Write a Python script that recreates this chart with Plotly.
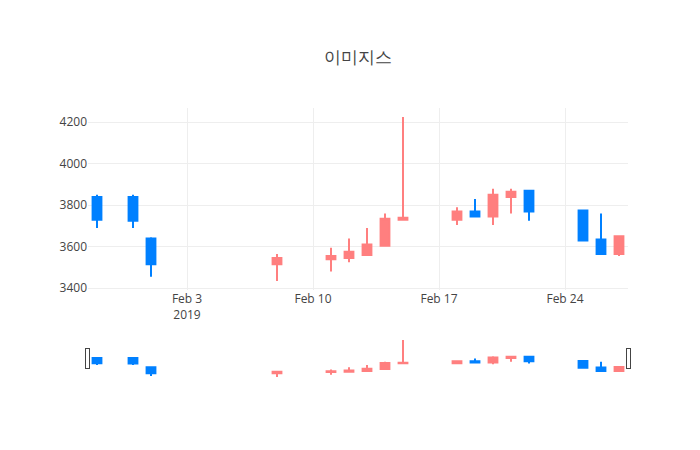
import plotly.graph_objects as go

dates = ["2019-01-29", "2019-01-31", "2019-02-01", "2019-02-08", "2019-02-11",
         "2019-02-12", "2019-02-13", "2019-02-14", "2019-02-15", "2019-02-18",
         "2019-02-19", "2019-02-20", "2019-02-21", "2019-02-22", "2019-02-25",
         "2019-02-26", "2019-02-27"]
open_ = [3840, 3840, 3640, 3515, 3540, 3545, 3560, 3605, 3730, 3730,
         3770, 3745, 3840, 3870, 3775, 3635, 3565]
high = [3850, 3850, 3645, 3565, 3595, 3640, 3690, 3760, 4225, 3790,
        3830, 3880, 3880, 3870, 3775, 3760, 3650]
low = [3690, 3690, 3455, 3435, 3480, 3525, 3555, 3605, 3730, 3705,
       3745, 3705, 3760, 3725, 3630, 3565, 3555]
close = [3730, 3725, 3515, 3545, 3555, 3575, 3610, 3735, 3740, 3770,
         3745, 3850, 3865, 3770, 3630, 3565, 3650]

fig = go.Figure(go.Candlestick(
    x=dates, open=open_, high=high, low=low, close=close,
    increasing=dict(line=dict(color="#FF7F7F"), fillcolor="#FF7F7F"),
    decreasing=dict(line=dict(color="#0080FF"), fillcolor="#0080FF"),
))
fig.update_layout(
    title=dict(text="이미지스", x=0.5, y=0.905),
    font=dict(color="#444"),
    plot_bgcolor="white", paper_bgcolor="white",
    width=700, height=450,
    margin=dict(l=80, r=80, t=100, b=80),
    showlegend=False,
)
fig.update_xaxes(showgrid=True, gridcolor="#eee", zeroline=False)
fig.update_yaxes(showgrid=True, gridcolor="#eee", zeroline=False)
fig.write_html("out.html")
